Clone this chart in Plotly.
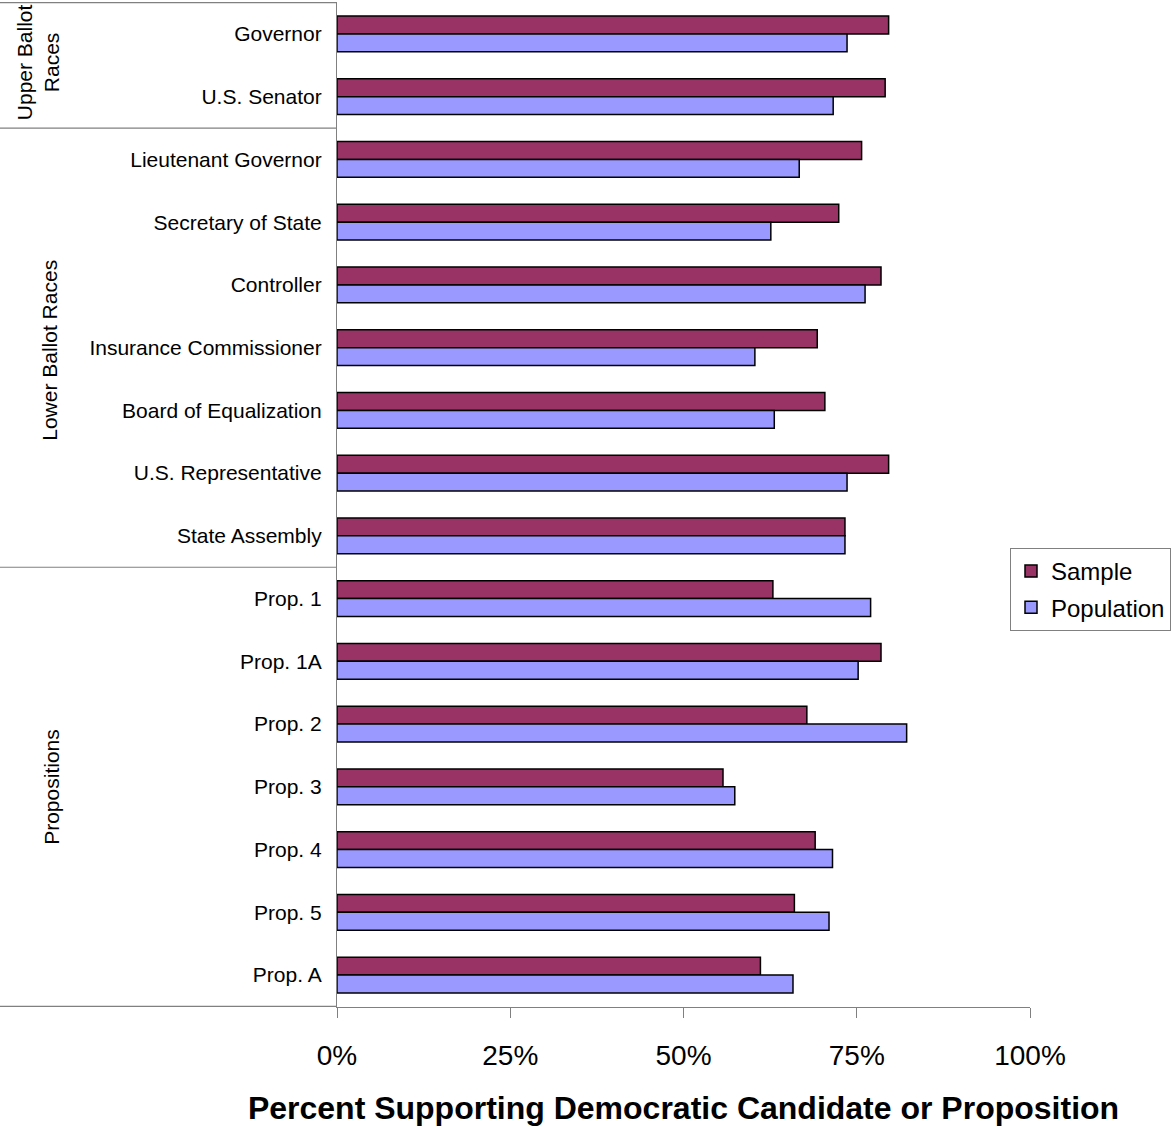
import plotly.graph_objects as go

# Races and propositions, top to bottom
categories = [
    "Governor", "U.S. Senator",
    "Lieutenant Governor", "Secretary of State", "Controller",
    "Insurance Commissioner", "Board of Equalization",
    "U.S. Representative", "State Assembly",
    "Prop. 1", "Prop. 1A", "Prop. 2", "Prop. 3", "Prop. 4", "Prop. 5", "Prop. A",
]

# Percent supporting the Democratic candidate / proposition
sample = [79.6, 79.1, 75.7, 72.4, 78.5, 69.3, 70.4, 79.6, 73.3,
          62.9, 78.5, 67.8, 55.7, 69.0, 66.0, 61.1]
population = [73.6, 71.6, 66.7, 62.6, 76.2, 60.3, 63.1, 73.6, 73.3,
              77.0, 75.2, 82.2, 57.4, 71.5, 71.0, 65.8]

x_ticks = [0, 25, 50, 75, 100]
x_tick_labels = ["0%", "25%", "50%", "75%", "100%"]

# Race groups: (label, first index, last index, label centre index, x px)
groups = [
    ("Upper Ballot<br>Races", 0, 1, 0.45, 38),
    ("Lower Ballot Races", 2, 8, 5.05, 50),
    ("Propositions", 9, 15, 12.0, 52),
]

FONT = "Liberation Sans, Arial, sans-serif"

fig = go.Figure()
fig.add_trace(go.Bar(
    y=categories, x=sample, name="Sample", orientation="h",
    legendgroup="sample",
    marker=dict(color="#993366", line=dict(color="black", width=1.5)),
))
fig.add_trace(go.Bar(
    y=categories, x=population, name="Population", orientation="h",
    legendgroup="population",
    marker=dict(color="#9999FF", line=dict(color="black", width=1.5)),
))

n = len(categories)
W, H = 1173, 1127
L, R, T, B = 337, 143, 2, 120
plot_w = W - L - R
left_edge = -L / plot_w  # paper x of the page's left edge

# Group separator lines across the label column
for y in [-0.5] + [g[2] + 0.5 for g in groups[:-1]]:
    fig.add_shape(type="line", xref="paper", yref="y",
                  x0=left_edge, x1=0, y0=y, y1=y,
                  line=dict(color="#808080", width=1.2))
# Extend the axis baseline across the label column
fig.add_shape(type="line", xref="paper", yref="y",
              x0=left_edge, x1=0, y0=n - 0.5, y1=n - 0.5,
              line=dict(color="#808080", width=1.2))

for label, first, last, centre, xpx in groups:
    fig.add_annotation(
        text=label, xref="paper", yref="y",
        x=left_edge + xpx / plot_w, y=centre,
        textangle=-90, showarrow=False,
        font=dict(family=FONT, size=21, color="black"),
        xanchor="center", yanchor="middle",
    )

fig.update_layout(
    width=W, height=H,
    margin=dict(l=L, r=R, t=T, b=B, pad=0),
    paper_bgcolor="white", plot_bgcolor="white",
    barmode="group", bargap=0.43, bargroupgap=0,
    font=dict(family=FONT, color="black"),
    legend=dict(
        x=(1010 - L) / plot_w, y=1 - (548 - T) / (H - T - B),
        xanchor="left", yanchor="top",
        bordercolor="#808080", borderwidth=1,
        font=dict(family=FONT, size=24, color="black"),
        itemwidth=30, traceorder="grouped", tracegroupgap=2,
    ),
    showlegend=True,
)

fig.update_xaxes(
    range=[0, 100], tickvals=x_ticks, ticktext=x_tick_labels,
    showgrid=False, zeroline=False,
    showline=True, linecolor="#808080", linewidth=1.2,
    ticks="outside", ticklen=10, tickcolor="#808080",
    tickfont=dict(family=FONT, size=28, color="black"),
    ticklabelstandoff=13,
    title=dict(text="<b>Percent Supporting Democratic Candidate or Proposition</b>",
               font=dict(family=FONT, size=32, color="black"), standoff=26),
)
fig.update_yaxes(
    categoryorder="array", categoryarray=categories, autorange="reversed",
    showgrid=False, zeroline=False,
    showline=True, linecolor="#808080", linewidth=1.2,
    ticks="", tickfont=dict(family=FONT, size=21, color="black"),
    ticklabelstandoff=10,
)

fig.write_html("out.html")
